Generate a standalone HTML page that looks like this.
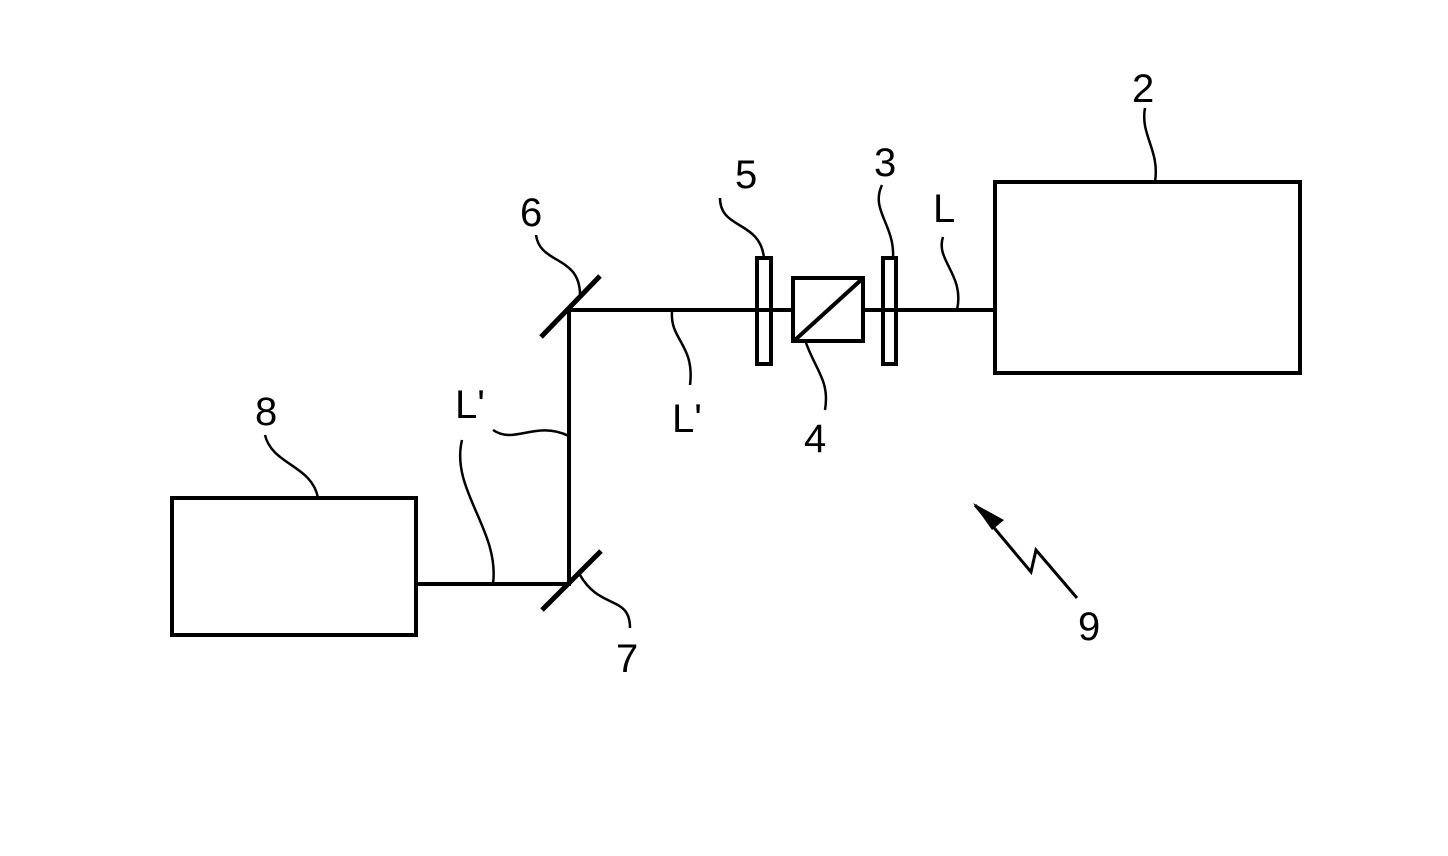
<!DOCTYPE html>
<html><head><style>body{margin:0;background:#fff}svg{display:block}text{font-family:"Liberation Sans",sans-serif;font-size:40px;fill:#000}</style></head>
<body>
<svg width="1448" height="856" viewBox="0 0 1448 856" xmlns="http://www.w3.org/2000/svg">
<g fill="none" stroke="#000" stroke-width="4">
<rect x="995" y="182" width="305" height="191"/>
<rect x="172" y="498" width="244" height="137"/>
<path d="M569 310H995M569 310V584H416"/>
<path d="M541 337L600 276M542 610L601 551" stroke-width="5"/>
<rect x="757" y="258" width="14" height="106"/>
<rect x="883" y="258" width="13" height="106"/>
<rect x="793" y="278" width="70" height="63" fill="#fff"/>
<path d="M795 340L861 280"/>
<path d="M975 505L1031 572L1036 550L1077 598" stroke-width="3"/>
</g>
<path d="M973 503L1004 520L992 530Z" fill="#000"/>
<g fill="none" stroke="#000" stroke-width="2.5">
<path d="M1145 108C1140 135 1160 150 1155 182"/>
<path d="M882 185C870 210 895 225 893 258"/>
<path d="M720 198C720 230 760 220 764 258"/>
<path d="M536 235C540 265 580 255 580 295"/>
<path d="M943 237C935 260 965 275 957 310"/>
<path d="M672 312C670 340 695 345 690 385"/>
<path d="M805 340C815 370 830 380 825 410"/>
<path d="M265 435C272 465 312 465 318 498"/>
<path d="M462 440C450 490 500 530 493 584"/>
<path d="M493 430C515 445 535 420 569 436"/>
<path d="M580 575C600 610 630 595 630 628"/>
</g>
<text x="1132" y="102">2</text>
<text x="874" y="176">3</text>
<text x="735" y="188">5</text>
<text x="520" y="226">6</text>
<text x="933" y="222">L</text>
<text x="672" y="432">L'</text>
<text x="804" y="452">4</text>
<text x="255" y="425">8</text>
<text x="455" y="418">L'</text>
<text x="616" y="672">7</text>
<text x="1078" y="640">9</text>
</svg>
</body></html>
